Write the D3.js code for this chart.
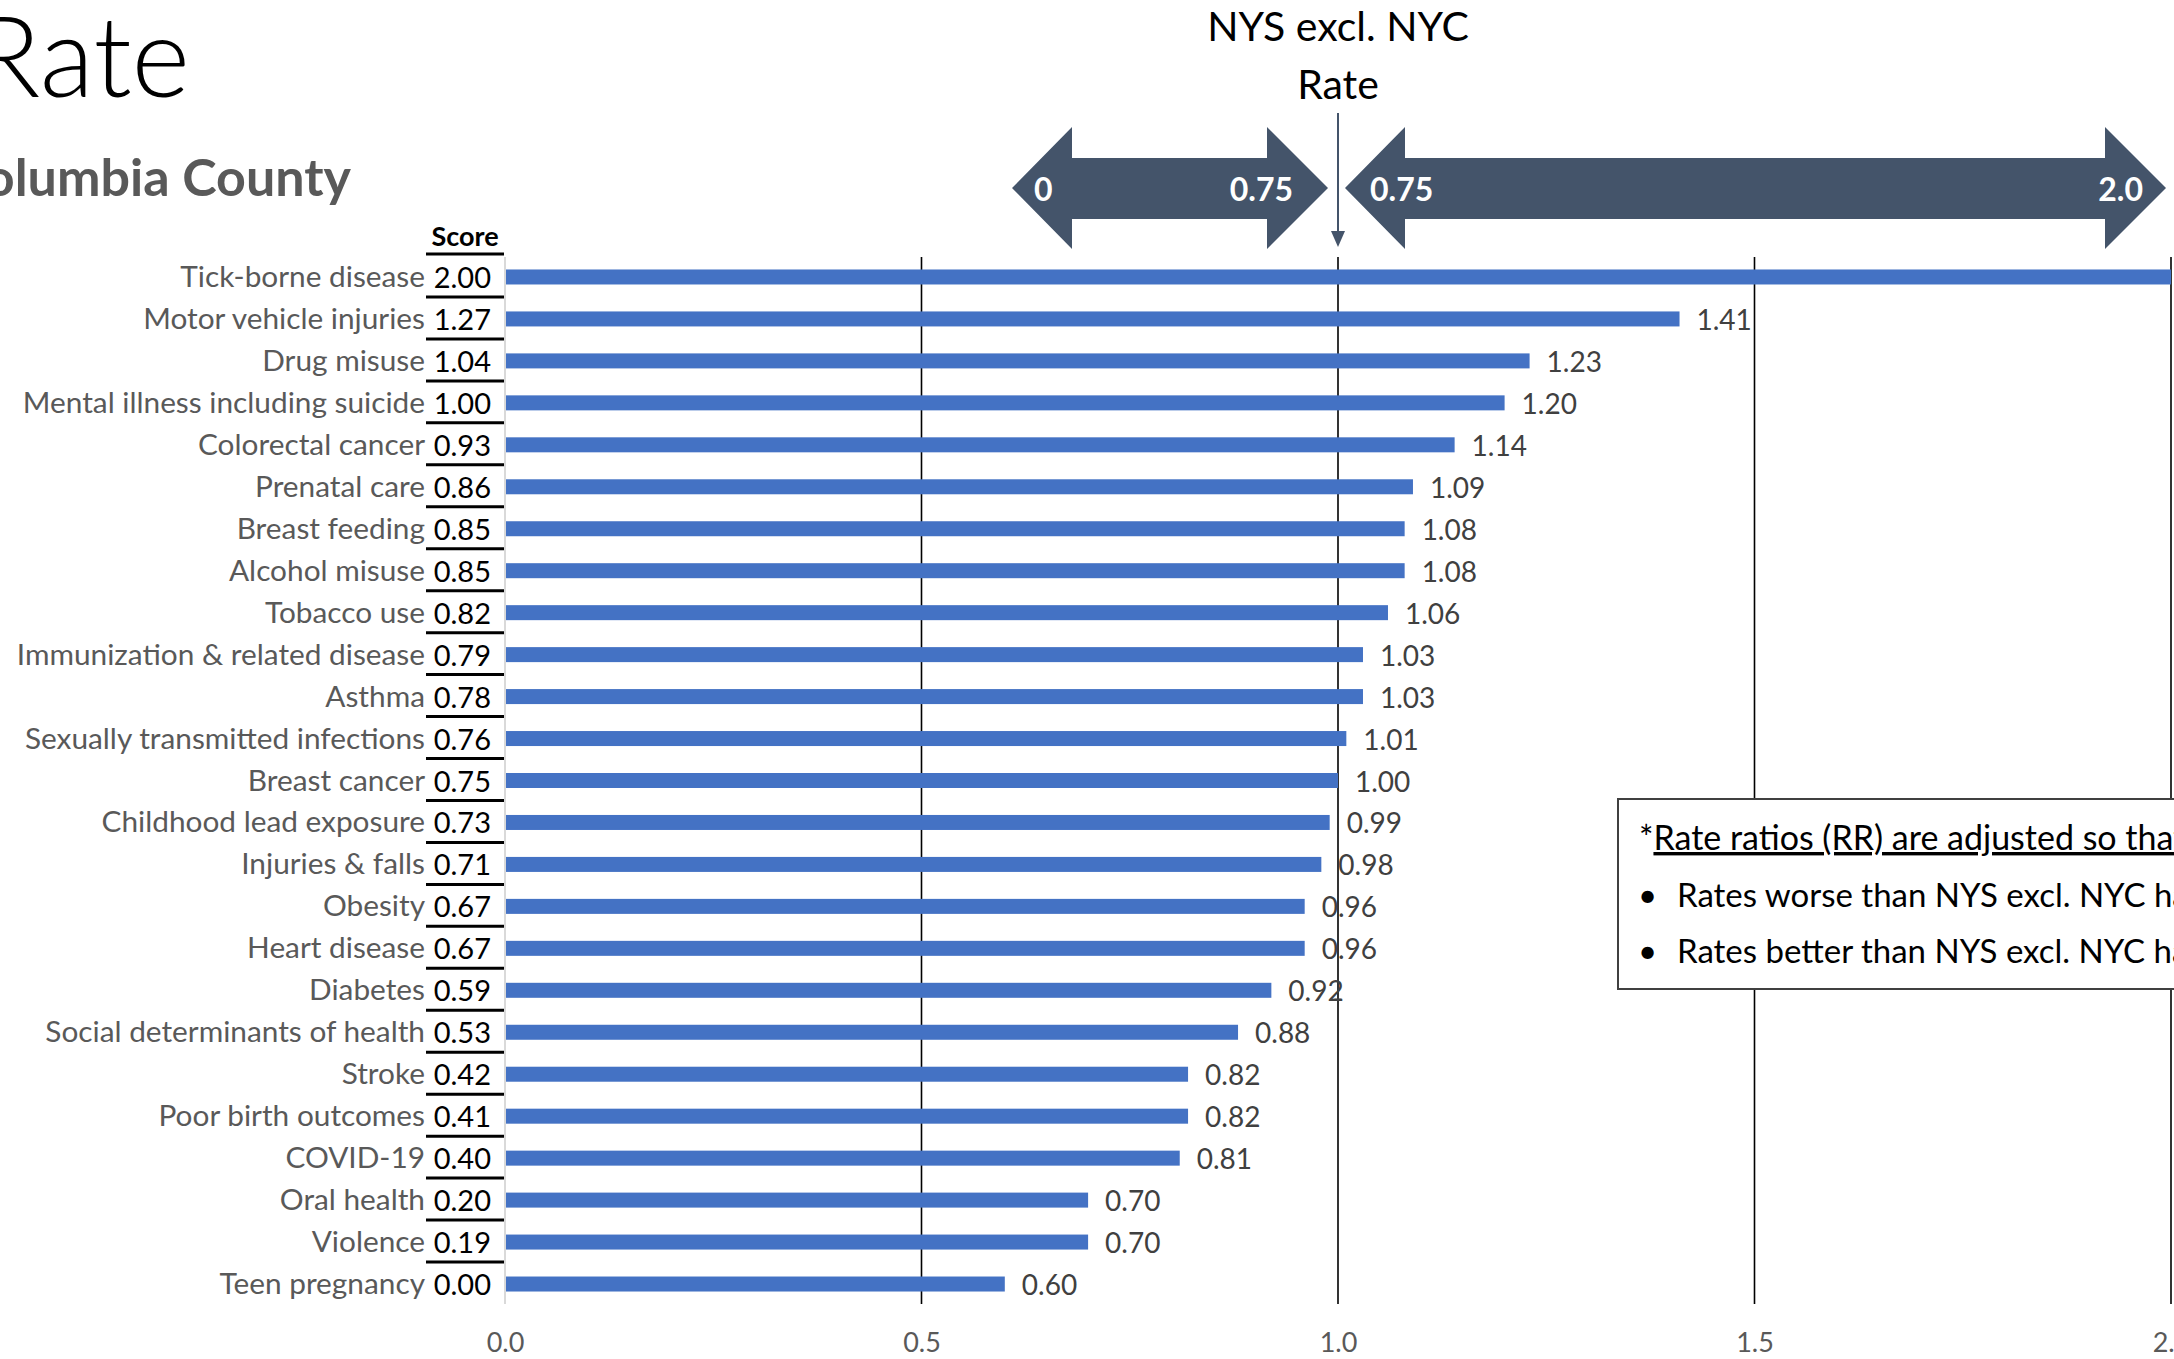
<!DOCTYPE html>
<html>
<head>
<meta charset="utf-8">
<script src="https://cdn.jsdelivr.net/npm/d3@7/dist/d3.min.js"></script>
<style>
  html, body { margin: 0; padding: 0; background: #ffffff; }
  svg { display: block; }
  text { font-family: Lato, "Open Sans", "Noto Sans", sans-serif; }
</style>
</head>
<body>
<svg id="chart" width="2174" height="1359"></svg>
<script>
const categories = [
  "Tick-borne disease", "Motor vehicle injuries", "Drug misuse",
  "Mental illness including suicide", "Colorectal cancer", "Prenatal care",
  "Breast feeding", "Alcohol misuse", "Tobacco use",
  "Immunization & related disease", "Asthma", "Sexually transmitted infections",
  "Breast cancer", "Childhood lead exposure", "Injuries & falls", "Obesity",
  "Heart disease", "Diabetes", "Social determinants of health", "Stroke",
  "Poor birth outcomes", "COVID-19", "Oral health", "Violence", "Teen pregnancy"
];
const scores = [2.00, 1.27, 1.04, 1.00, 0.93, 0.86, 0.85, 0.85, 0.82, 0.79, 0.78, 0.76,
  0.75, 0.73, 0.71, 0.67, 0.67, 0.59, 0.53, 0.42, 0.41, 0.40, 0.20, 0.19, 0.00];
const rateRatios = [2.00, 1.41, 1.23, 1.20, 1.14, 1.09, 1.08, 1.08, 1.06, 1.03, 1.03, 1.01,
  1.00, 0.99, 0.98, 0.96, 0.96, 0.92, 0.88, 0.82, 0.82, 0.81, 0.70, 0.70, 0.60];
const xTicks = [0.0, 0.5, 1.0, 1.5, 2.0];
const gridTicks = [0.5, 1.0, 1.5, 2.0];
const arrowLabels = [["0", "0.75"], ["0.75", "2.0"]];
const noteLines = [
  "Rates worse than NYS excl. NYC have RR > 1.0",
  "Rates better than NYS excl. NYC have RR < 1.0"
];

const svg = d3.select("#chart");
const x = d3.scaleLinear().domain([0, 2]).range([505, 2171]);
const y = d3.scaleBand().domain(categories).range([256, 1305]).padding(0);
const step = y.step();
const barH = 15;

// Title texts
svg.append("text").attr("x", 190).attr("y", 97).attr("text-anchor", "end")
  .attr("font-size", 112).attr("font-weight", 300).attr("fill", "#000")
  .text("Rate");
svg.append("text").attr("x", 351).attr("y", 196).attr("text-anchor", "end")
  .attr("font-size", 52).attr("font-weight", 700).attr("fill", "#595959")
  .text("Columbia County");

// Gridlines
svg.append("g").selectAll("line").data(gridTicks).join("line")
  .attr("x1", d => x(d)).attr("x2", d => x(d))
  .attr("y1", 257).attr("y2", 1304)
  .attr("stroke", "#000").attr("stroke-width", 1.6);

// left axis line
svg.append("line").attr("x1", x(0)).attr("x2", x(0)).attr("y1", 257).attr("y2", 1304)
  .attr("stroke", "#d9d9d9").attr("stroke-width", 2);

// x axis labels
const xAxis = d3.axisBottom(x).tickValues(xTicks).tickFormat(d3.format(".1f")).tickSize(0).tickPadding(0);
const gx = svg.append("g").attr("transform", "translate(0,1333)").call(xAxis);
gx.select(".domain").remove();
gx.selectAll("text").attr("font-size", 27).attr("fill", "#595959")
  .style("font-family", "Lato, 'Open Sans', sans-serif");

// Bars
svg.append("g").selectAll("rect").data(categories).join("rect")
  .attr("x", x(0) + 1)
  .attr("y", d => y(d) + step / 2 - barH / 2)
  .attr("width", (d, i) => x(rateRatios[i]) - x(0) - 1)
  .attr("height", barH)
  .attr("fill", "#4472c4");

// Value labels
svg.append("g").selectAll("text").data(categories).join("text")
  .attr("x", (d, i) => x(rateRatios[i]) + 17)
  .attr("y", d => y(d) + step / 2 + 11)
  .attr("font-size", 28).attr("fill", "#404040")
  .text((d, i) => rateRatios[i].toFixed(2));

// Category labels
svg.append("g").selectAll("text").data(categories).join("text")
  .attr("x", 425).attr("y", d => y(d) + step / 2 + 10)
  .attr("text-anchor", "end").attr("font-size", 29.8).attr("fill", "#595959")
  .text(d => d);

// Score column
svg.append("text").attr("x", 465).attr("y", 246).attr("text-anchor", "middle")
  .attr("font-size", 27).attr("font-weight", 700).attr("fill", "#000").text("Score");
svg.append("g").selectAll("text").data(categories).join("text")
  .attr("x", 491).attr("y", d => y(d) + step / 2 + 11)
  .attr("text-anchor", "end").attr("font-size", 29).attr("fill", "#000")
  .text((d, i) => scores[i].toFixed(2));
const underlineYs = [y.range()[0] - 2].concat(categories.slice(0, -1).map(d => y(d) + step - 1));
svg.append("g").selectAll("line").data(underlineYs).join("line")
  .attr("x1", 426).attr("x2", 504).attr("y1", d => d).attr("y2", d => d)
  .attr("stroke", "#000").attr("stroke-width", 3);

// Double arrows
const arrowC = "#44546a";
function dblArrow(l, lb, rb, r, top, st, sb, bot) {
  const cy = (top + bot) / 2;
  return `M${l},${cy} L${lb},${top} L${lb},${st} L${rb},${st} L${rb},${top} L${r},${cy} L${rb},${bot} L${rb},${sb} L${lb},${sb} L${lb},${bot} Z`;
}
svg.append("path").attr("d", dblArrow(1012, 1072, 1267, 1328, 127, 158, 219, 249)).attr("fill", arrowC);
svg.append("path").attr("d", dblArrow(1345, 1405, 2105, 2166, 127, 158, 219, 249)).attr("fill", arrowC);
const arrowTextY = 201;
svg.append("text").attr("x", 1034).attr("y", arrowTextY).attr("font-size", 32).attr("font-weight", 700)
  .attr("fill", "#fff").text(arrowLabels[0][0]);
svg.append("text").attr("x", 1293).attr("y", arrowTextY).attr("text-anchor", "end").attr("font-size", 32).attr("font-weight", 700)
  .attr("fill", "#fff").text(arrowLabels[0][1]);
svg.append("text").attr("x", 1370).attr("y", arrowTextY).attr("font-size", 32).attr("font-weight", 700)
  .attr("fill", "#fff").text(arrowLabels[1][0]);
svg.append("text").attr("x", 2143).attr("y", arrowTextY).attr("text-anchor", "end").attr("font-size", 32).attr("font-weight", 700)
  .attr("fill", "#fff").text(arrowLabels[1][1]);

// NYS label and pointer
svg.append("text").attr("x", x(1)).attr("y", 41).attr("text-anchor", "middle")
  .attr("font-size", 41).attr("fill", "#000").text("NYS excl. NYC");
svg.append("text").attr("x", x(1)).attr("y", 99).attr("text-anchor", "middle")
  .attr("font-size", 41).attr("fill", "#000").text("Rate");
svg.append("line").attr("x1", x(1)).attr("x2", x(1)).attr("y1", 113).attr("y2", 234)
  .attr("stroke", arrowC).attr("stroke-width", 2);
svg.append("path").attr("d", `M${x(1) - 7},${231} L${x(1) + 7},${231} L${x(1)},${247} Z`).attr("fill", arrowC);

// Note box
svg.append("rect").attr("x", 1618).attr("y", 799).attr("width", 700).attr("height", 190)
  .attr("fill", "#fff").attr("stroke", "#404040").attr("stroke-width", 2);
const note = svg.append("text").attr("x", 1639).attr("y", 850).attr("font-size", 34).attr("fill", "#000");
note.append("tspan").text("*");
note.append("tspan").attr("text-decoration", "underline").text("Rate ratios (RR) are adjusted so that:");
svg.append("g").selectAll("text.b").data(noteLines).join("text")
  .attr("x", 1638).attr("y", (d, i) => 907 + i * 56).attr("font-size", 33).attr("fill", "#000").text("•");
svg.append("g").selectAll("text.t").data(noteLines).join("text")
  .attr("x", 1677).attr("y", (d, i) => 907 + i * 56).attr("font-size", 33).attr("fill", "#000").text(d => d);
</script>
</body>
</html>
